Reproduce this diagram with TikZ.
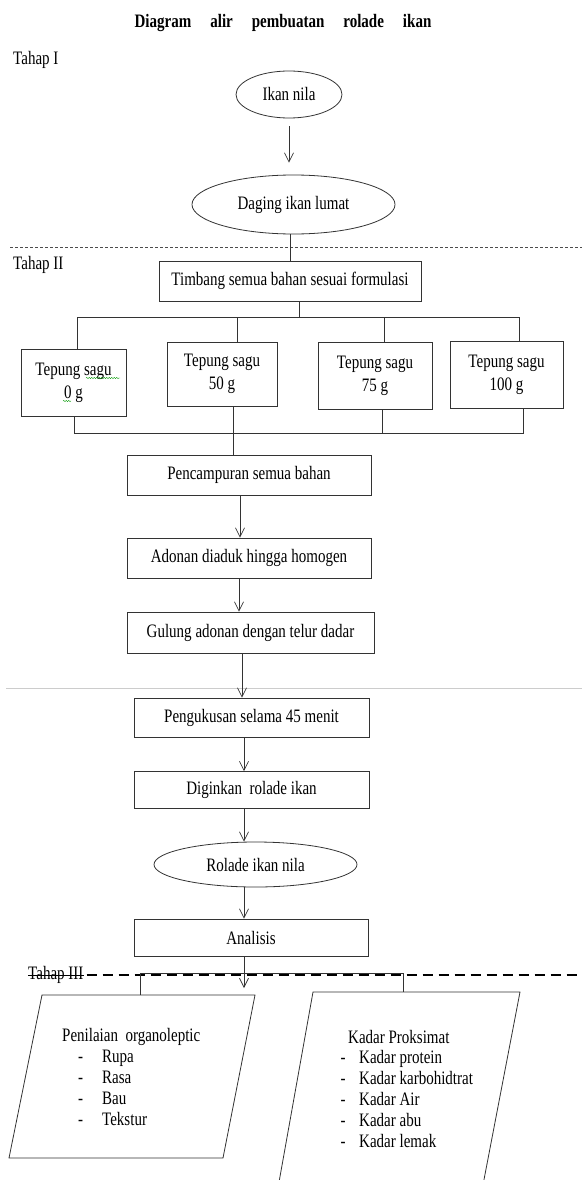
\documentclass[tikz,border=0pt]{standalone}
\usepackage{fontspec}
\setmainfont{Liberation Serif}[FakeStretch=0.79]
\usetikzlibrary{arrows.meta,shapes.geometric,decorations.pathmorphing}

\begin{document}
\begin{tikzpicture}[x=1pt,y=-1pt,
	font=\fontsize{19}{23}\selectfont,
	kotak/.style={draw=black!80,line width=0.8pt,rectangle,align=center,inner sep=0pt},
	elips/.style={draw=black!80,line width=0.8pt,ellipse,inner sep=0pt},
	garis/.style={draw=black!80,line width=0.8pt},
	panah/.style={draw=black!80,line width=0.7pt,-{Straight Barb[length=9pt,width=9pt]}},
	tahap/.style={anchor=west,inner sep=0pt}]
		
		\useasboundingbox (0,0) rectangle (582,1180);
		
		% Judul
		\node[font=\fontsize{19}{23}\selectfont\bfseries] (judul) at (283,23) {Diagram\hspace{19pt}alir\hspace{19pt}pembuatan\hspace{19pt}rolade\hspace{19pt}ikan};
		
		% Tahap I
		\node[tahap] (tahap1) at (13,60) {Tahap I};
		\node[elips,minimum width=106pt,minimum height=47pt] (ikan) at (289,94.5) {Ikan nila};
		\node[elips,minimum width=203pt,minimum height=59pt] (daging) at (293.5,204.5) {Daging ikan lumat};
		\draw[panah,shorten <=8pt,shorten >=12pt] (ikan.south) -- (ikan.south |- daging.north);
		
		\coordinate (batas1a) at (10,247);
		\coordinate (batas1b) at (582,247);
		\draw[black!70,line width=0.6pt,dash pattern=on 3pt off 2pt] (batas1a) -- (batas1b);
		
		% Tahap II
		\node[tahap] (tahap2) at (13,265) {Tahap II};
		\node[kotak,minimum width=262pt,minimum height=40pt] (timbang) at (290,281) {Timbang semua bahan sesuai formulasi};
		\draw[garis] (daging.south -| timbang.north) -- (timbang.north);
		
		\node[kotak,minimum width=105pt,minimum height=67pt] (s0) at (73.5,382.5) {Tepung sagu\\0 g};
		\node[kotak,minimum width=110pt,minimum height=64pt] (s50) at (222,374) {Tepung sagu\\50 g};
		\node[kotak,minimum width=114pt,minimum height=67pt] (s75) at (375,375.5) {Tepung sagu\\75 g};
		\node[kotak,minimum width=113pt,minimum height=67pt] (s100) at (506.5,374.5) {Tepung sagu\\100 g};
		\draw[green!60!black,line width=0.4pt,decorate,decoration={snake,amplitude=0.6pt,segment length=2.5pt}] (86,378) -- (120,378);
		\draw[green!60!black,line width=0.4pt,decorate,decoration={snake,amplitude=0.6pt,segment length=2.5pt}] (63,401) -- (71,401);
		
		% Cabang atas
		\coordinate (atasT) at (299,317);
		\coordinate (atasA) at (77,317);
		\coordinate (atasB) at (237,317);
		\coordinate (atasC) at (384,317);
		\coordinate (atasD) at (519,317);
		\draw[garis] (atasT |- timbang.south) -- (atasT);
		\draw[garis] (atasA |- s0.north) -- (atasA) -- (atasD) -- (atasD |- s100.north);
		\draw[garis] (atasB) -- (atasB |- s50.north);
		\draw[garis] (atasC) -- (atasC |- s75.north);
		
		\node[kotak,minimum width=244pt,minimum height=40pt] (campur) at (249,475) {Pencampuran semua bahan};
		\node[kotak,minimum width=244pt,minimum height=40pt] (adonan) at (249,558) {Adonan diaduk hingga homogen};
		\node[kotak,minimum width=247pt,minimum height=41pt] (gulung) at (250.5,632.5) {Gulung adonan dengan telur dadar};
		
		% Cabang bawah
		\coordinate (bawahA) at (74,433);
		\coordinate (bawahB) at (233,433);
		\coordinate (bawahC) at (382,433);
		\coordinate (bawahD) at (523,433);
		\draw[garis] (bawahA |- s0.south) -- (bawahA) -- (bawahD) -- (bawahD |- s100.south);
		\draw[garis] (bawahB |- s50.south) -- (bawahB |- campur.north);
		\draw[garis] (bawahC |- s75.south) -- (bawahC);
		
		\draw[panah] ([xshift=-9pt]campur.south) -- ([xshift=-9pt]adonan.north);
		\draw[panah] ([xshift=-10pt]adonan.south) -- ([xshift=-10pt]adonan.south |- gulung.north);
		
		\coordinate (batas2a) at (6,688);
		\coordinate (batas2b) at (582,688);
		\draw[black!20,line width=1pt] (batas2a) -- (batas2b);
		
		\node[kotak,minimum width=235pt,minimum height=39pt] (kukus) at (251.5,717.5) {Pengukusan selama 45 menit};
		\node[kotak,minimum width=235pt,minimum height=37pt] (dingin) at (251.5,790) {Diginkan\ \ rolade ikan};
		\node[elips,minimum width=203pt,minimum height=45pt] (rolade) at (255.5,864.5) {Rolade ikan nila};
		\node[kotak,minimum width=234pt,minimum height=37pt] (analisis) at (251,937.5) {Analisis};
		
		\draw[panah] ([xshift=-8.5pt]gulung.south) -- ([xshift=-8.5pt]gulung.south |- kukus.north);
		\draw[panah] ([xshift=-7.5pt]kukus.south) -- ([xshift=-7.5pt]dingin.north);
		\draw[panah] ([xshift=-7.5pt]dingin.south) -- ([xshift=-7.5pt]dingin.south |- rolade.north);
		\draw[panah] ([xshift=-11.5pt]rolade.south) -- ([xshift=-7pt]analisis.north);
		
		% Tahap III
		\node[tahap] (tahap3) at (28,975) {Tahap III};
		\coordinate (batas3) at (582,975);
		\draw[line width=0.7pt] (tahap3.west) -- (tahap3.east);
		\draw[line width=2.6pt,dash pattern=on 10pt off 6pt] ([xshift=3pt]tahap3.east) -- (batas3);
		
		\coordinate (ujung) at (244,988);
		\draw[panah] ([xshift=-7pt]analisis.south) -- (ujung);
		
		\coordinate (analA) at (140,973);
		\coordinate (analB) at (403,973);
		\coordinate (kiriAtas) at (140,995);
		\coordinate (kananAtas) at (403,992);
		\draw[garis] (kiriAtas) -- (analA) -- (analB) -- (kananAtas);
		
		% Jajar genjang
		\draw[garis] (42,995) -- (255,995) -- (223,1158) -- (9,1158) -- cycle;
		\draw[garis] (277.6,1190) -- (313,992) -- (520,992) -- (482,1190);
		
		\node[anchor=base west,inner sep=0pt,align=left,font=\fontsize{19}{20.8}\selectfont] (organo) at (62,1125)
			{Penilaian\ \ organoleptic\\
			\hspace{16pt}-\hspace{19pt}Rupa\\
			\hspace{16pt}-\hspace{19pt}Rasa\\
			\hspace{16pt}-\hspace{19pt}Bau\\
			\hspace{16pt}-\hspace{19pt}Tekstur};
		\node[anchor=base west,inner sep=0pt,align=left,font=\fontsize{19}{20.8}\selectfont] (proksimat) at (340.5,1147)
			{\hspace{7.5pt}Kadar Proksimat\\
			-\hspace{13.5pt}Kadar protein\\
			-\hspace{13.5pt}Kadar karbohidtrat\\
			-\hspace{13.5pt}Kadar Air\\
			-\hspace{13.5pt}Kadar abu\\
			-\hspace{13.5pt}Kadar lemak};
	\end{tikzpicture}
\end{document}
